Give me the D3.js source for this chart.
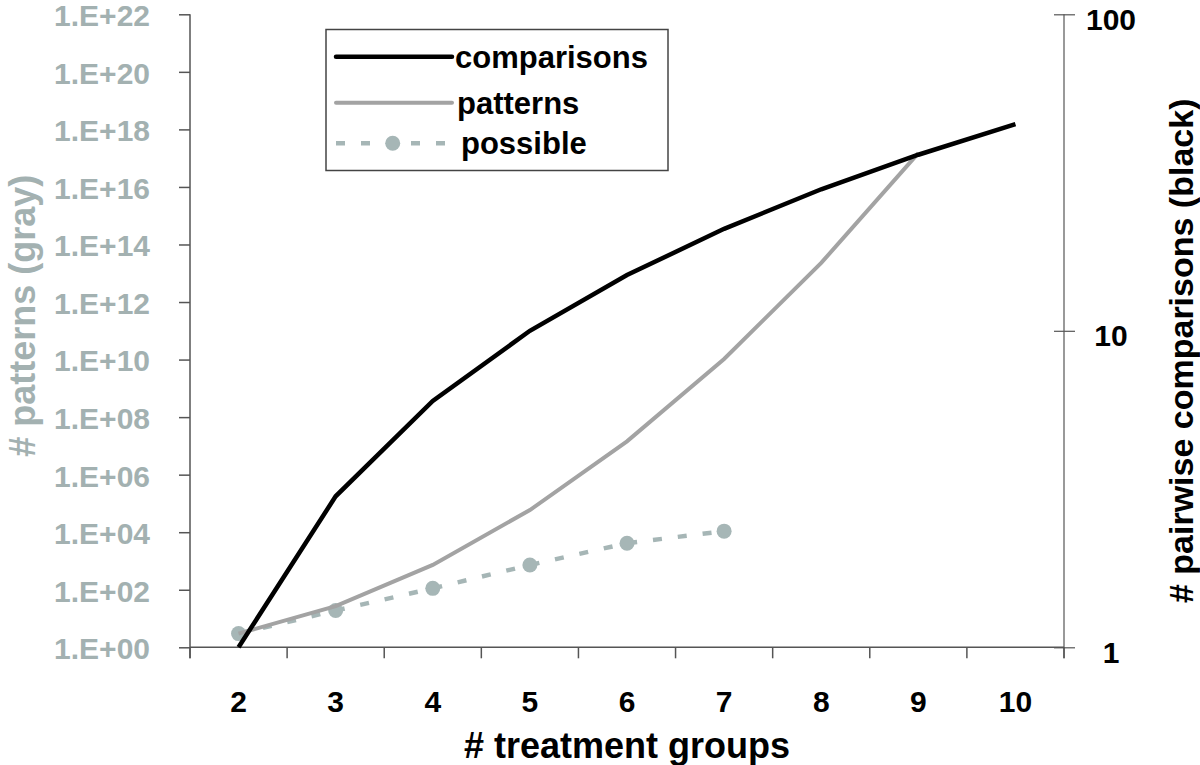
<!DOCTYPE html>
<html><head><meta charset="utf-8">
<script src="https://cdn.jsdelivr.net/npm/d3@7"></script>
<style>
html,body{margin:0;padding:0;background:#fff;}
svg text{font-family:"Liberation Sans",Arial,sans-serif;font-weight:bold;}
</style></head>
<body>
<svg id="chart" width="1200" height="765"></svg>
<script>
const groups = ["2","3","4","5","6","7","8","9","10"];
const comparisons = [1,3,6,10,15,21,28,36,45];
const patterns = [3,27,729,59049,14348907,1.046e10,2.288e13,1.501e17];
const patternGroups = ["2","3","4","5","6","7","8","9"];
const possible = [3,19,112,725,4150,10900];
const possibleGroups = ["2","3","4","5","6","7"];
const leftTicks = [1,1e2,1e4,1e6,1e8,1e10,1e12,1e14,1e16,1e18,1e20,1e22];
const rightTicks = [1,10,100];

const W = 1200, H = 765;
const m = {left:190, right:136, top:14.3, bottom:117.7};
const svg = d3.select("#chart");
const grayText = "#a3b1b1";
const axisCol = "#555";

const x = d3.scaleBand().domain(groups).range([m.left, W - m.right]).padding(0);
const yL = d3.scaleLog().domain([1,1e22]).range([H - m.bottom, m.top]);
const yR = d3.scaleLog().domain([1,100]).range([H - m.bottom, m.top]);
const cx = g => x(g) + x.bandwidth()/2;

const g = svg.append("g");
// left axis
const leftAxis = d3.axisLeft(yL).tickValues(leftTicks).tickSize(11).tickPadding(29)
  .tickFormat(v => { const e = Math.round(Math.log10(v)); return "1.E+" + String(e).padStart(2,"0"); });
const gl = g.append("g").attr("transform", `translate(${m.left},0)`).call(leftAxis);
gl.select(".domain").attr("stroke", axisCol).attr("stroke-width",1.5).attr("d", `M0,${m.top}V${H-m.bottom+11}`);
gl.selectAll(".tick line").attr("stroke", axisCol).attr("stroke-width",1.5);
gl.selectAll(".tick text").attr("fill", grayText).style("font-size","30px").attr("dy","0.38em");

// right axis
const rightAxis = d3.axisRight(yR).tickValues(rightTicks).tickSize(11).tickPadding(36)
  .tickFormat(d3.format("d"));
const gr = g.append("g").attr("transform", `translate(${W-m.right},0)`).call(rightAxis);
gr.select(".domain").attr("stroke", axisCol).attr("stroke-width",1.2).attr("d", `M0,${m.top}V${H-m.bottom+11}`);
gr.selectAll(".tick line").attr("stroke", axisCol).attr("stroke-width",1.2).attr("x1",-10);
gr.selectAll(".tick text").attr("fill", "#000").style("font-size","30px").attr("text-anchor","middle").attr("dy","0.5em");

// bottom axis
const bounds = groups.map(d => x(d)).concat([W - m.right]);
const gb = g.append("g");
gb.append("line").attr("x1", m.left).attr("x2", W - m.right).attr("y1", H - m.bottom).attr("y2", H - m.bottom)
  .attr("stroke", axisCol).attr("stroke-width",1.5);
gb.selectAll("line.tk").data(bounds).join("line").attr("class","tk")
  .attr("x1", d => d).attr("x2", d => d).attr("y1", H - m.bottom).attr("y2", H - m.bottom + 11)
  .attr("stroke", axisCol).attr("stroke-width",1.5);
gb.selectAll("text").data(groups).join("text")
  .attr("x", d => cx(d)).attr("y", H - m.bottom + 54).attr("dy","0.35em").attr("text-anchor","middle")
  .style("font-size","30px").attr("fill","#000").text(d => d);

// titles
svg.append("text").attr("x", 627).attr("y", 745).attr("dy","0.35em").attr("text-anchor","middle")
  .style("font-size","36px").attr("fill","#000").text("# treatment groups");
svg.append("text").attr("transform", `translate(22,${(m.top + H - m.bottom)/2 - 15}) rotate(-90)`)
  .attr("dy","0.35em").attr("text-anchor","middle").style("font-size","36px").attr("fill", grayText)
  .text("# patterns (gray)");
svg.append("text").attr("transform", `translate(1181,${(m.top + H - m.bottom)/2 + 20}) rotate(-90)`)
  .attr("dy","0.35em").attr("text-anchor","middle").style("font-size","34px").attr("fill","#000")
  .text("# pairwise comparisons (black)");

// series
const possCol = "#a6b6b6";
svg.append("path").datum(possibleGroups.map((d,i)=>[cx(d), yL(possible[i])]))
  .attr("d", d3.line()).attr("fill","none").attr("stroke", possCol).attr("stroke-width",4.5)
  .attr("stroke-dasharray","9,16");
svg.selectAll("circle.poss").data(possibleGroups).join("circle").attr("class","poss")
  .attr("cx", d => cx(d)).attr("cy", (d,i) => yL(possible[i])).attr("r", 7.5).attr("fill", possCol);
svg.append("path").datum(patternGroups.map((d,i)=>[cx(d), yL(patterns[i])]))
  .attr("d", d3.line()).attr("fill","none").attr("stroke", "#a3a3a3").attr("stroke-width",4);
svg.append("path").datum(groups.map((d,i)=>[cx(d), yR(comparisons[i])]))
  .attr("d", d3.line()).attr("fill","none").attr("stroke", "#000").attr("stroke-width",4.5);

// legend
const lg = svg.append("g");
lg.append("rect").attr("x",326).attr("y",29.5).attr("width",342).attr("height",141)
  .attr("fill","#fff").attr("stroke","#444").attr("stroke-width",1.5);
const items = [
  {name:"comparisons", y:56.7, col:"#000", w:4.5, dash:null, tx:455},
  {name:"patterns", y:102.7, col:"#a3a3a3", w:4, dash:null, tx:457},
  {name:"possible", y:143.3, col:possCol, w:4.5, dash:"9,16", tx:461}
];
items.forEach(it => {
  lg.append("line").attr("x1",336).attr("x2",452).attr("y1",it.y).attr("y2",it.y)
    .attr("stroke",it.col).attr("stroke-width",it.w).attr("stroke-dasharray",it.dash)
    .attr("stroke-linecap", it.dash ? "butt" : "round");
  lg.append("text").attr("x",it.tx).attr("y",it.y).attr("dy","0.35em").style("font-size","31px")
    .attr("fill","#000").text(it.name);
});
lg.append("circle").attr("cx",392.7).attr("cy",143.3).attr("r",7.5).attr("fill",possCol);
</script>
</body></html>
